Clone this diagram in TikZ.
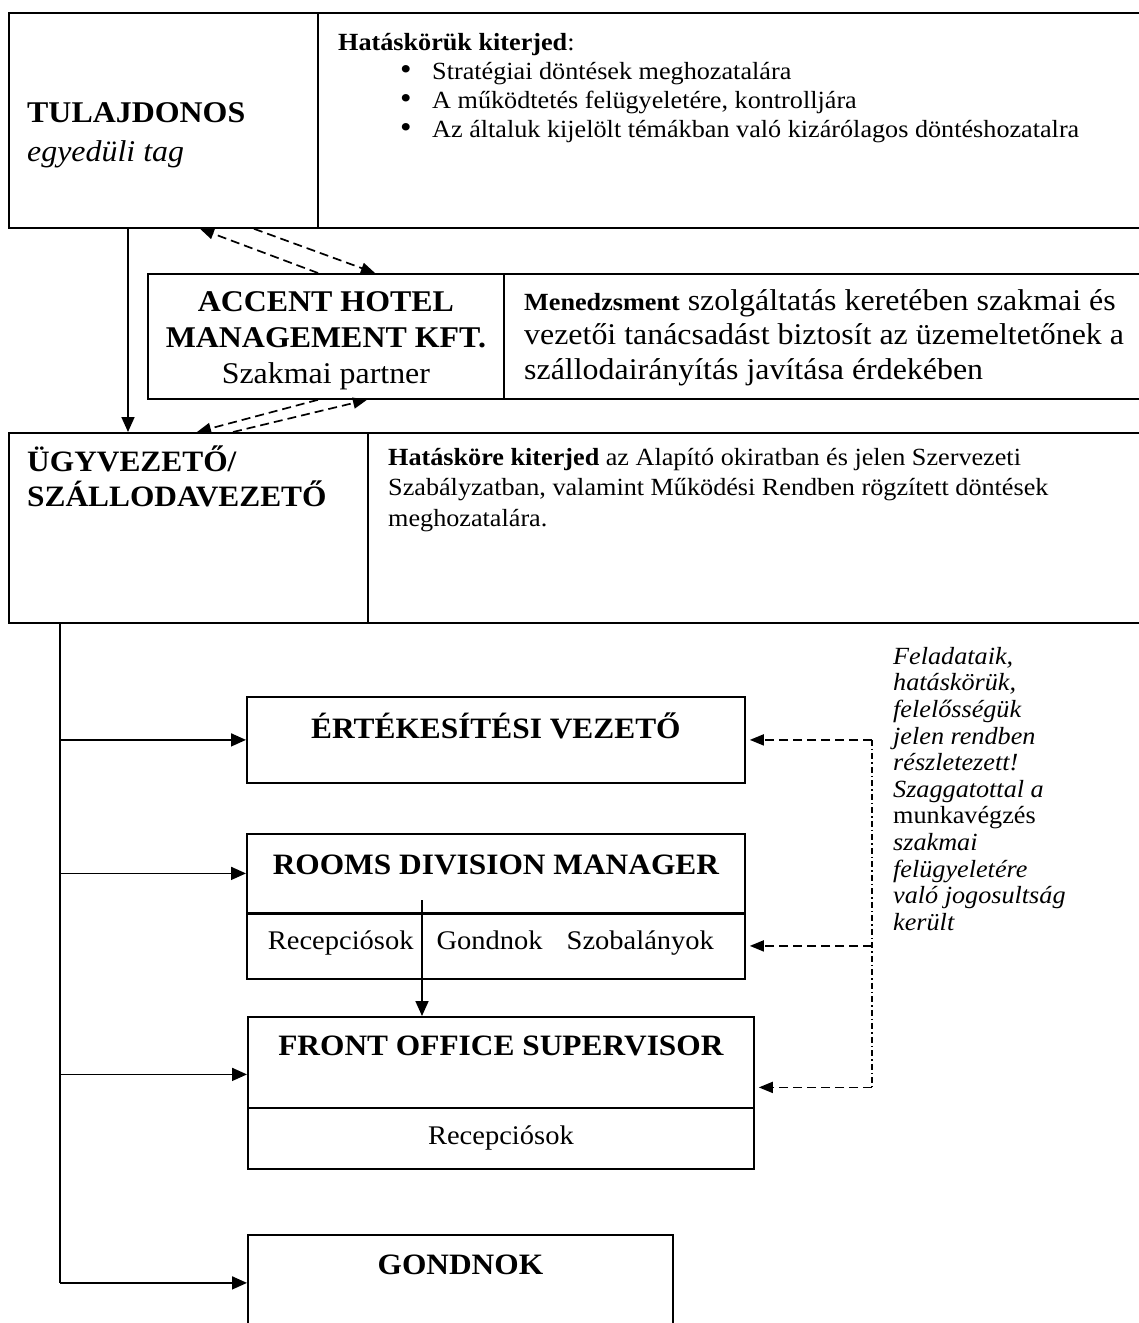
\documentclass[tikz,border=0pt]{standalone}
\usepackage{fontspec}
\setmainfont{Liberation Serif}[FakeStretch=1.06]
\usetikzlibrary{arrows.meta}

\tikzset{
  box/.style={draw,line width=1.8pt,anchor=north west,inner sep=0pt},
  solidarrow/.style={-{Triangle[length=15pt,width=13pt]},line width=1.7pt},
  partnerarrow/.style={-{Triangle[length=14pt,width=11pt]},line width=1.7pt,dash pattern=on 9pt off 5pt},
  railline/.style={line width=1.4pt,dash pattern=on 6pt off 3pt on 1.5pt off 3pt},
  unittitle/.style={font=\fontsize{29.6}{36}\selectfont\bfseries,inner sep=0pt},
  bodytext/.style={font=\fontsize{24.7}{29}\selectfont,inner sep=0pt,align=left,anchor=north west},
}

\begin{document}
\begin{tikzpicture}[x=1pt,y=-1pt,line join=miter]
\useasboundingbox (0,0) rectangle (1139,1323);
\clip (0,0) rectangle (1139,1323);

% felso sor
\node[box,minimum width=309,minimum height=215] (owner) at (8,12) {};
\node[box,minimum width=850,minimum height=215] (ownerinfo) at (317,12) {};
\node[bodytext,font=\fontsize{30.1}{39}\selectfont] (ownername) at (27,102) {\textbf{TULAJDONOS}\\\textit{egyedüli tag}};
\node[bodytext] (ownerscope) at (338,33) {\textbf{Hatáskörük kiterjed}:\\
  \hspace*{62pt}\makebox[32pt][l]{\fontsize{31}{29}\selectfont\textbullet}Stratégiai döntések meghozatalára\\
  \hspace*{62pt}\makebox[32pt][l]{\fontsize{31}{29}\selectfont\textbullet}A működtetés felügyeletére, kontrolljára\\
  \hspace*{62pt}\makebox[32pt][l]{\fontsize{31}{29}\selectfont\textbullet}Az általuk kijelölt témákban való kizárólagos döntéshozatalra};

% szakmai partner
\node[box,minimum width=356,minimum height=125] (accent) at (147,273) {};
\node[box,minimum width=660,minimum height=125] (accentinfo) at (503,273) {};
\node[font=\fontsize{30.1}{36}\selectfont,align=center,inner sep=0pt] (accentname) at ([yshift=-4]accent.center) {\textbf{ACCENT HOTEL}\\\textbf{MANAGEMENT KFT.}\\Szakmai partner};
\node[bodytext,font=\fontsize{30.1}{34.5}\selectfont] (accentscope) at (524,289) {{\fontsize{24.7}{34.5}\selectfont\bfseries Menedzsment} szolgáltatás keretében szakmai és\\vezetői tanácsadást biztosít az üzemeltetőnek a\\szállodairányítás javítása érdekében};

% ugyvezeto
\node[box,minimum width=359,minimum height=190] (ceo) at (8,432) {};
\node[box,minimum width=800,minimum height=190] (ceoinfo) at (367,432) {};
\node[bodytext,font=\fontsize{29.6}{35}\selectfont\bfseries] (ceoname) at (27,446) {ÜGYVEZETŐ/\\SZÁLLODAVEZETŐ};
\node[bodytext,font=\fontsize{24.7}{30.5}\selectfont] (ceoscope) at (388,448) {\textbf{Hatásköre kiterjed} az Alapító okiratban és jelen Szervezeti\\Szabályzatban, valamint Működési Rendben rögzített döntések\\meghozatalára.};

% egysegek
\node[box,minimum width=498,minimum height=86] (sales) at (246,696) {};
\node[box,minimum width=498,minimum height=79] (rooms) at (246,833) {};
\node[box,minimum width=498,minimum height=66] (roomstaff) at (246,912) {};
\node[box,minimum width=506,minimum height=91] (fos) at (247,1016) {};
\node[box,minimum width=506,minimum height=61] (fosstaff) at (247,1107) {};
\node[box,minimum width=425,minimum height=96] (gondnok) at (247,1234) {};
\draw[line width=3pt] (rooms.south west) -- (rooms.south east);

\node[unittitle] (salestitle) at ([yshift=14]sales.center) {ÉRTÉKESÍTÉSI VEZETŐ};
\node[unittitle] (roomstitle) at ([yshift=8]rooms.center) {ROOMS DIVISION MANAGER};
\node[font=\fontsize{26.9}{30}\selectfont,inner sep=0pt] (roomstafftext) at ([xshift=-5,yshift=3]roomstaff.center) {Recepciósok\hspace{23pt}Gondnok\hspace{24pt}Szobalányok};
\node[unittitle] (fostitle) at ([yshift=16]fos.center) {FRONT OFFICE SUPERVISOR};
\node[font=\fontsize{26.9}{30}\selectfont,inner sep=0pt] (fosstafftext) at (fosstaff.center) {Recepciósok};
\node[unittitle] (gondnoktitle) at ([yshift=-31]gondnok.north) {GONDNOK};

\node[bodytext,font=\fontsize{24.7}{26.6}\selectfont\itshape] (note) at (893,647) {Feladataik,\\hatáskörük,\\felelősségük\\jelen rendben\\részletezett!\\Szaggatottal a\\{\upshape munkavégzés}\\szakmai\\felügyeletére\\való jogosultság\\került};

% tulajdonos -> ugyvezeto
\draw[solidarrow] ([xshift=120]owner.south west) -- ([xshift=120]ceo.north west);

% szakmai partner kapcsolatai
\draw[partnerarrow] ([xshift=171]accent.north west) -- ([xshift=192]owner.south west);
\draw[partnerarrow] ([xshift=246]owner.south west) -- ([xshift=228]accent.north west);
\draw[partnerarrow] ([xshift=171]accent.south west) -- ([xshift=189]ceo.north west);
\draw[partnerarrow] ([xshift=225]ceo.north west) -- ([xshift=220]accent.south west);

% torzs vonal
\coordinate (trunk) at (60,0);
\draw[line width=1.7pt] (ceo.south -| trunk) -- (gondnok.west -| trunk);
\draw[solidarrow] (sales.west -| trunk) -- (sales.west);
\draw[solidarrow] (rooms.west -| trunk) -- (rooms.west);
\coordinate (fosin) at ([yshift=-12]fos.west);
\draw[solidarrow] (fosin -| trunk) -- (fosin);
\draw[solidarrow] (gondnok.west -| trunk) -- (gondnok.west);

% rooms -> front office
\coordinate (roomsplit) at (422,900);
\draw[solidarrow] (roomsplit) -- (roomsplit |- fos.north);

% szakmai felugyelet
\coordinate (rail) at (872,0);
\coordinate (fosright) at ([yshift=-25]fos.east);
\draw[railline] (sales.east -| rail) -- (fosright -| rail);
\draw[partnerarrow] (sales.east -| rail) -- ([xshift=4]sales.east);
\draw[partnerarrow] (roomstaff.east -| rail) -- ([xshift=4]roomstaff.east);
\draw[partnerarrow] (fosright -| rail) -- ([xshift=4]fosright);
\end{tikzpicture}
\end{document}
